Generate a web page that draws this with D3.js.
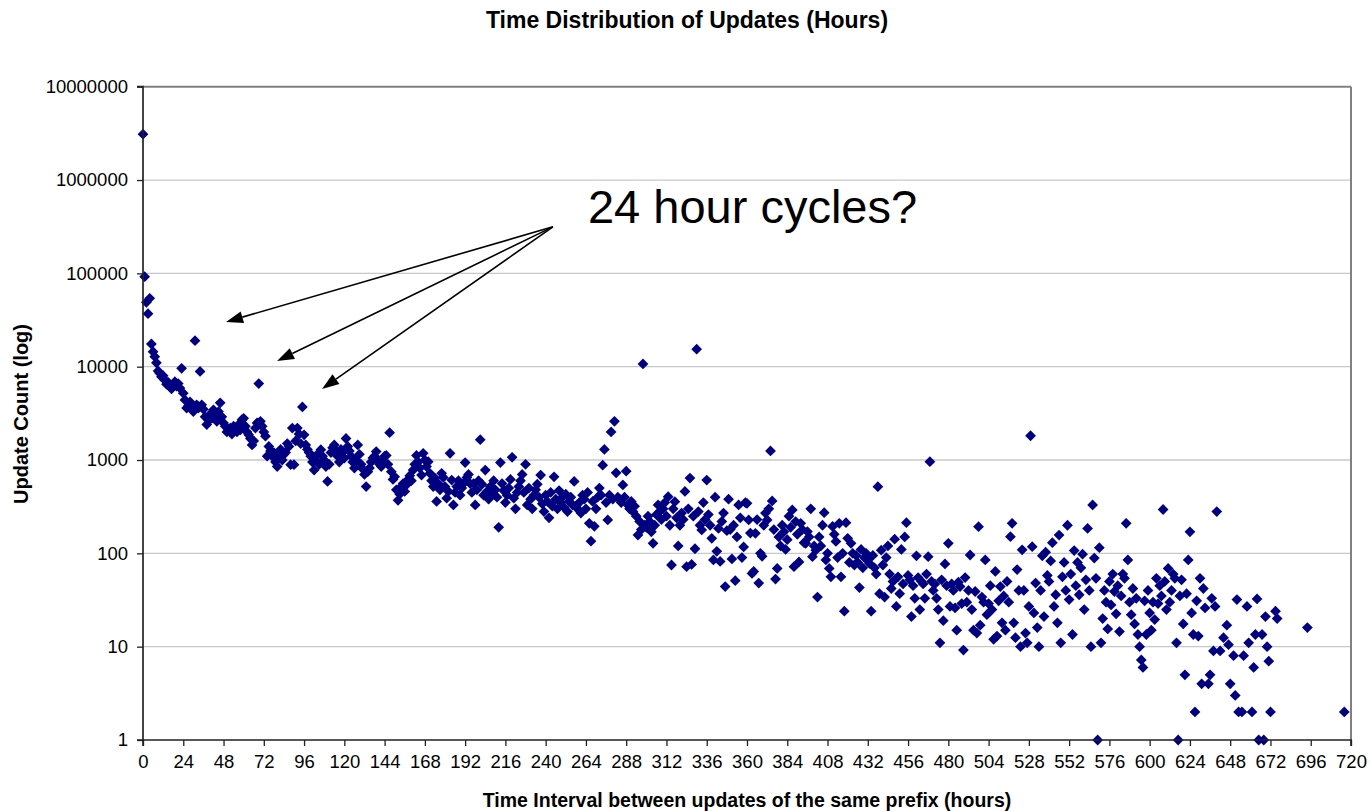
<!DOCTYPE html>
<html><head><meta charset="utf-8">
<script src="https://cdn.jsdelivr.net/npm/d3@7/dist/d3.min.js"></script>
<style>
body{margin:0;background:#fff}
svg{display:block}
text{font-family:"Liberation Sans",Arial,Helvetica,sans-serif;fill:#000}
</style>
</head><body>
<svg id="chart" width="1371" height="811"></svg>
<script>
// ---- Data: update counts per hour, one array per 24-hour day (null = no point) ----
const day00 = [3100000,92000,49000,37000,54000,17500,14500,12800,11000,9000,8500,7800,8000,7200,6500,6800,6100,5800,6400,6900,6200,6600,5900,9600];
const day01 = [5200,4400,3600,3800,4200,3500,3300,19000,3900,3600,8900,3900,3500,2900,2400,2700,3100,2800,3450,3000,2600,3300,4100,2900];
const day02 = [2500,2300,2000,2100,2200,1900,2300,2200,2000,2400,2100,2700,2800,2300,2000,1860,1700,1450,1600,2200,2500,6600,2600,2300];
const day03 = [2000,1800,1100,1400,1250,1100,1200,950,850,1100,1300,1000,1150,1200,1500,1400,890,2200,890,1600,2200,1900,1500,3700];
const day04 = [1860,1450,1300,1200,1100,950,780,1000,1150,900,1290,1100,1000,850,590,900,1200,1350,1450,1250,1100,950,1300,1200];
const day05 = [1050,1700,1400,1250,1100,950,820,1000,1450,1150,900,800,700,520,750,820,950,1050,1100,1230,1000,900,850,950];
const day06 = [1100,1120,900,1960,750,620,660,480,370,430,520,560,460,540,620,680,600,780,900,1120,950,820,690,1180];
const day07 = [1000,850,960,720,600,520,640,360,560,480,720,650,520,390,460,1180,610,330,450,520,600,420,500,560];
const day08 = [940,650,700,560,450,560,330,480,600,1650,550,420,780,460,380,520,440,600,480,400,190,940,560,470];
const day09 = [350,420,500,620,1070,390,300,450,520,600,700,450,900,330,500,380,300,420,480,550,400,690,340,280];
const day10 = [420,360,240,450,320,660,380,300,470,350,400,310,430,280,360,400,330,590,320,300,350,270,420,380];
const day11 = [300,450,210,135,360,195,300,400,500,420,880,1300,350,228,420,2000,380,2600,730,400,380,350,540,400];
const day12 = [760,330,300,360,280,320,250,157,220,180,10700,200,190,250,220,170,128,200,260,330,280,230,300,350];
const day13 = [250,405,200,75,300,358,240,120,200,270,230,460,72,300,640,76,250,112,15400,280,200,178,350,230];
const day14 = [610,260,200,145,85,400,105,185,82,220,270,44,175,380,180,87,200,51,150,330,240,90,117,350];
const day15 = [344,228,165,61,64,164,230,48,100,93,200,270,228,300,1250,364,180,53,69,150,120,200,170,110];
const day16 = [140,250,190,292,72,219,160,81,210,180,130,128,171,150,300,92,120,108,34,150,120,200,273,85];
const day17 = [100,69,56,194,160,134,90,210,56,100,24,213,145,80,128,100,75,95,80,43,110,70,90,100];
const day18 = [85,78,24,95,70,60,518,37,108,75,34,90,120,60,42,50,142,27,56,37,110,47,150,213];
const day19 = [58,52,21,45,33,94,55,25,50,47,33,60,92,960,50,40,47,33,25,11,52,19,77,45];
const day20 = [128,27,47,40,26,15,49,44,29,9.2,55,30,40,96,25,15,39,14,193,17,34,30,85,22];
const day21 = [29,45,25,12,64,13,31,44,18,35,15,50,30,151,210,18,12.5,67,40,10,109,40,14,11];
const day22 = [27,1820,118,23,48,16,10,40,94,21,103,58,50,83,130,27,36,18,157,11,56,80,40,200];
const day23 = [32,60,13.5,107,45,80,36,70,98,25,52,185,40,10,330,89,54,1,115,11,20,40,30,15.5];
const day24 = [50,28,60,39,22.5,45,14.5,35,60,54,210,85,30,22,42,17.5,33,13.5,10,7.2,6,31,13.5,40];
const day25 = [23,15,30,19.5,54,29,45,35,295,50,25,69,30,40,60,54,11,1,35,52,17.5,5,37,85];
const day26 = [170,23,13.5,2,31,13,54,4,42,26,null,4,5,33,9,27,280,null,9,null,12.5,null,17,10.5];
const day27 = [4,null,8,3,32,2,null,2,8,null,27,11,null,2,6,13.5,32.5,1,null,13.5,1,21,10,7];
const day28 = [2,null,null,24,20,null,null,null,null,null,null,null,null,null,null,null,null,null,null,null,null,null,16,null];
const day29 = [null,null,null,null,null,null,null,null,null,null,null,null,null,null,null,null,null,null,null,null,2,null,null,null];
const days = [day00,day01,day02,day03,day04,day05,day06,day07,day08,day09,day10,day11,day12,day13,day14,
              day15,day16,day17,day18,day19,day20,day21,day22,day23,day24,day25,day26,day27,day28,day29];

const xTicks = d3.range(0, 721, 24);
const yTicks = [1,10,100,1000,10000,100000,1000000,10000000];
const titleText = "Time Distribution of Updates (Hours)";
const xTitle = "Time Interval between updates of the same prefix (hours)";
const yTitle = "Update Count (log)";
const noteText = "24 hour cycles?";
// annotation anchor in data units: [hour, count]
const noteAnchor = [265.2, 348000];
const arrowTail = [244.3, 315000];
const arrowHeads = [[49.5, 30200],[79.9, 11500],[106.7, 5780]];

// ---- Layout ----
const svg = d3.select("#chart");
const L = 143, R = 1351, T = 86.7, B = 740;
const x = d3.scaleLinear().domain([0,720]).range([L,R]);
const y = d3.scaleLog().domain([1,1e7]).range([B,T]);

const points = [];
days.forEach((arr,d) => arr.forEach((v,i) => { if (v != null) points.push({h: d*24+i, c: v}); }));

// gridlines
svg.append("g").selectAll("line").data(yTicks.slice(1,-1)).join("line")
  .attr("x1",L).attr("x2",R).attr("y1",d=>y(d)).attr("y2",d=>y(d))
  .attr("stroke","#c8c8c8").attr("stroke-width",1.3);

// frame top & right
svg.append("line").attr("x1",L).attr("x2",R).attr("y1",T).attr("y2",T).attr("stroke","#808080").attr("stroke-width",2);
svg.append("line").attr("x1",R).attr("x2",R).attr("y1",T).attr("y2",B).attr("stroke","#808080").attr("stroke-width",2);

// points
const diamond = d3.symbol().type(d3.symbolSquare).size(58);
svg.append("g").selectAll("path").data(points).join("path")
  .attr("d", diamond)
  .attr("transform", d => `translate(${x(d.h)},${y(d.c)}) rotate(45)`)
  .attr("fill","#000080");

// axes
const yAxis = d3.axisLeft(y).tickValues(yTicks).tickFormat(d3.format("d")).tickSize(6).tickPadding(9);
const gy = svg.append("g").attr("transform",`translate(${L},0)`).call(yAxis);
const xAxis = d3.axisBottom(x).tickValues(xTicks).tickFormat(d3.format("d")).tickSize(6).tickPadding(9);
const gx = svg.append("g").attr("transform",`translate(0,${B})`).call(xAxis);
[gx,gy].forEach(g => {
  g.select(".domain").attr("stroke","#222").attr("stroke-width",1.7);
  g.selectAll(".tick line").attr("stroke","#222").attr("stroke-width",1.3);
  g.selectAll(".tick text").attr("font-size",18.5).attr("font-family","Liberation Sans, Arial, sans-serif").attr("fill","#000");
});
gy.select(".domain").attr("d",`M-6,${B}H0V${T}H-6`);
gx.select(".domain").attr("d",`M${L},6V0H${R}V6`);

// titles
svg.append("text").attr("x",687).attr("y",28).attr("text-anchor","middle")
  .attr("font-size",23).attr("font-weight","bold").text(titleText);
svg.append("text").attr("x",747).attr("y",807).attr("text-anchor","middle")
  .attr("font-size",19.5).attr("font-weight","bold").text(xTitle);
svg.append("text").attr("transform","translate(28,414) rotate(-90)").attr("text-anchor","middle")
  .attr("font-size",20).attr("font-weight","bold").text(yTitle);

// annotation arrows
const ag = svg.append("g");
arrowHeads.forEach(hd => {
  const x0 = x(arrowTail[0]), y0 = y(arrowTail[1]);
  const x1 = x(hd[0]), y1 = y(hd[1]);
  const ang = Math.atan2(y1-y0, x1-x0);
  const len = 17, w = 6;
  const bx = x1 - len*Math.cos(ang), by = y1 - len*Math.sin(ang);
  ag.append("line").attr("x1",x0).attr("y1",y0).attr("x2",bx).attr("y2",by)
    .attr("stroke","#000").attr("stroke-width",1.6);
  const px = -Math.sin(ang)*w, py = Math.cos(ang)*w;
  ag.append("path").attr("d",`M${x1},${y1}L${bx+px},${by+py}L${bx-px},${by-py}Z`).attr("fill","#000");
});
svg.append("text").attr("x",x(noteAnchor[0])).attr("y",y(noteAnchor[1]))
  .attr("font-size",47).text(noteText);
</script>
</body></html>
